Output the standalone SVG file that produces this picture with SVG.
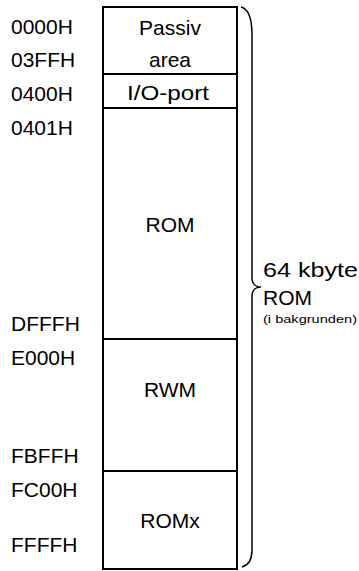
<svg xmlns="http://www.w3.org/2000/svg" width="359" height="571" viewBox="0 0 359 571">
<style>
.t{font-family:"Liberation Sans",Arial,sans-serif;font-size:21px;fill:#000}
.c{text-anchor:middle}
.s{font-family:"Liberation Sans",Arial,sans-serif;font-size:11px;fill:#000}
.b{fill:#fff;stroke:#000;stroke-width:2}
.br{fill:none;stroke:#000;stroke-width:1.5}
</style>
<rect width="359" height="571" fill="#fff"/>
<g id="addresses">
<text class="t" x="11" y="34">0000H</text>
<text class="t" x="11" y="67">03FFH</text>
<text class="t" x="11" y="101">0400H</text>
<text class="t" x="11" y="135">0401H</text>
<text class="t" x="11" y="331">DFFFH</text>
<text class="t" x="11" y="365">E000H</text>
<text class="t" x="11" y="463">FBFFH</text>
<text class="t" x="11" y="497">FC00H</text>
<text class="t" x="11" y="552">FFFFH</text>
</g>
<g id="passiv">
<rect class="b" x="103" y="7" width="134" height="67"/>
<text class="t c" x="170" y="35">Passiv</text>
<text class="t c" x="170" y="67">area</text>
</g>
<g id="io">
<rect class="b" x="103" y="74" width="134" height="34"/>
<text class="t c" x="168" y="100" textLength="82" lengthAdjust="spacingAndGlyphs">I/O-port</text>
</g>
<g id="rom">
<rect class="b" x="103" y="108" width="134" height="231"/>
<text class="t c" x="170" y="232">ROM</text>
</g>
<g id="rwm">
<rect class="b" x="103" y="339" width="134" height="132"/>
<text class="t c" x="170" y="397">RWM</text>
</g>
<g id="romx">
<rect class="b" x="103" y="471" width="134" height="98"/>
<text class="t c" x="170" y="528">ROMx</text>
</g>
<g id="connectors">
<path class="br" d="M241,7 C249,9 252,20 252,35 L252,278 C252,284 256,287 261,287 C256,287 252,290 252,296 L252,550 C252,560 249,565 242,567"/>
</g>
<g id="label">
<text class="t" x="263" y="277" textLength="95" lengthAdjust="spacingAndGlyphs">64 kbyte</text>
<text class="t" x="263" y="305">ROM</text>
<text class="s" x="263" y="323" textLength="94" lengthAdjust="spacingAndGlyphs">(i bakgrunden)</text>
</g>
</svg>
